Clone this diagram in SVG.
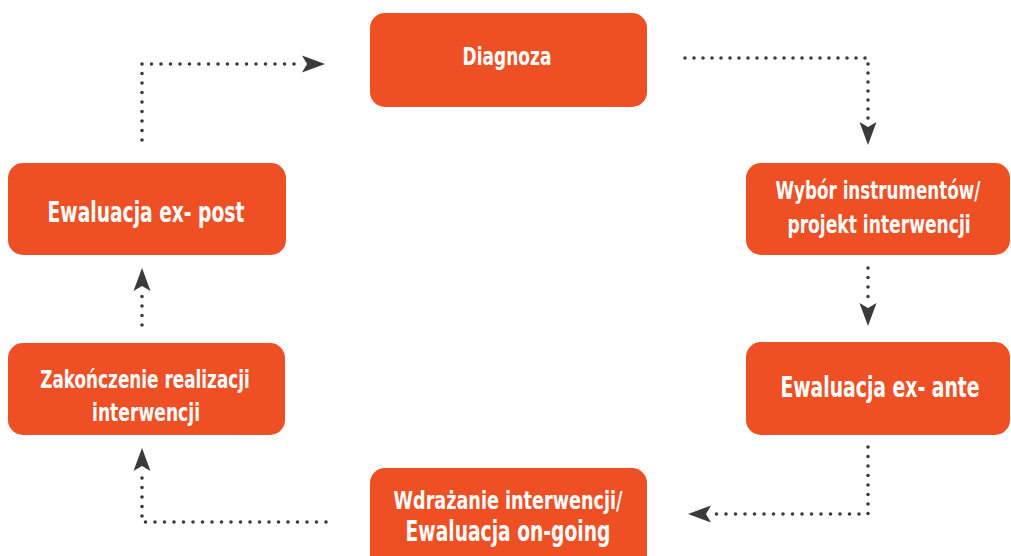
<svg xmlns="http://www.w3.org/2000/svg" xmlns:xlink="http://www.w3.org/1999/xlink" width="1011" height="556" viewBox="0 0 1011 556">
<style>
.box{fill:#EF4F24;}
.t{fill:#fff;font-family:"DejaVu Sans Condensed","DejaVu Sans","Liberation Sans",sans-serif;font-stretch:condensed;font-weight:bold;text-anchor:middle;}
.s{font-size:25px;}
.b{font-size:28px;}
.dot{fill:none;stroke:#3a3a3a;stroke-width:3.6;stroke-linecap:round;stroke-dasharray:0 9.5;}
.ah{fill:#3a3a3a;}
</style>
<defs>
<path id="ah" d="M0,0 L-23,-8.5 L-18,0 L-23,8.5 Z"/>
</defs>
<rect width="1011" height="556" fill="#fff"/>
<g id="connectors">
<path class="dot" d="M142,140 V64 H302"/>
<use href="#ah" class="ah" transform="translate(325,64)"/>
<path class="dot" d="M685,58 H868 V120" style="stroke-dasharray:0 9"/>
<use href="#ah" class="ah" transform="translate(868,145) rotate(90)"/>
<path class="dot" d="M868,268 V302"/>
<use href="#ah" class="ah" transform="translate(868,326) rotate(90)"/>
<path class="dot" d="M868,447 V514 H712"/>
<use href="#ah" class="ah" transform="translate(688,514) rotate(180)"/>
<path class="dot" d="M326,522 H142 V472"/>
<use href="#ah" class="ah" transform="translate(142,448) rotate(-90)"/>
<path class="dot" d="M142,325 V293"/>
<use href="#ah" class="ah" transform="translate(142,268) rotate(-90)"/>
</g>
<g id="diagnoza">
<rect class="box" x="370" y="13" width="277" height="94" rx="15"/>
<text class="t s" transform="translate(507,65) scale(0.8,1)" textLength="111" lengthAdjust="spacingAndGlyphs">Diagnoza</text>
</g>
<g id="wybor">
<rect class="box" x="746" y="163" width="264" height="92" rx="15"/>
<text class="t s" transform="translate(878,199) scale(0.8,1)" textLength="256" lengthAdjust="spacingAndGlyphs">Wybór instrumentów/</text>
<text class="t s" transform="translate(879,233) scale(0.8,1)" textLength="229" lengthAdjust="spacingAndGlyphs">projekt interwencji</text>
</g>
<g id="exante">
<rect class="box" x="746" y="342" width="264" height="93" rx="15"/>
<text class="t b" transform="translate(880,397) scale(0.8,1)" textLength="249" lengthAdjust="spacingAndGlyphs">Ewaluacja ex- ante</text>
</g>
<g id="wdrazanie">
<rect class="box" x="370" y="468" width="277" height="110" rx="15"/>
<text class="t s" transform="translate(508,509) scale(0.8,1)" textLength="286" lengthAdjust="spacingAndGlyphs">Wdrażanie interwencji/</text>
<text class="t b" transform="translate(508,541) scale(0.8,1)" textLength="256" lengthAdjust="spacingAndGlyphs">Ewaluacja on-going</text>
</g>
<g id="zakonczenie">
<rect class="box" x="8" y="343" width="277" height="92" rx="15"/>
<text class="t s" transform="translate(145,388) scale(0.8,1)" textLength="262" lengthAdjust="spacingAndGlyphs">Zakończenie realizacji</text>
<text class="t s" transform="translate(146,421) scale(0.8,1)" textLength="135" lengthAdjust="spacingAndGlyphs">interwencji</text>
</g>
<g id="expost">
<rect class="box" x="8" y="163" width="278" height="92" rx="15"/>
<text class="t b" transform="translate(146,222) scale(0.8,1)" textLength="246" lengthAdjust="spacingAndGlyphs">Ewaluacja ex- post</text>
</g>
</svg>
